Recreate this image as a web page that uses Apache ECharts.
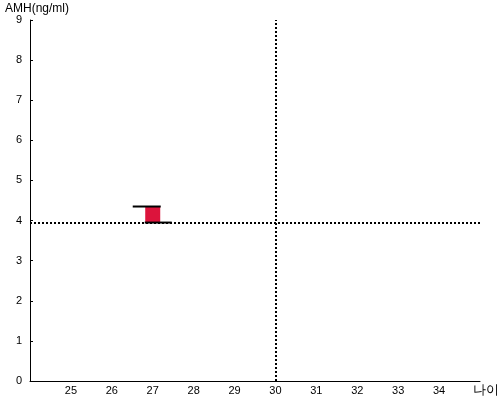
<!DOCTYPE html>
<html><head><meta charset="utf-8">
<script src="https://cdn.jsdelivr.net/npm/echarts@6/dist/echarts.min.js"></script>
<style>html,body{margin:0;padding:0;background:#fff}#c{width:500px;height:400px}</style>
</head><body><div id="c"></div>
<script>
const xTickLabels = [25, 26, 27, 28, 29, 30, 31, 32, 33, 34];
const yTickLabels = [0, 1, 2, 3, 4, 5, 6, 7, 8, 9];
const ages = [27];
const amhValues = [4.35];
const referenceAmh = [3.95];
const referenceAge = [30];

const chart = echarts.init(document.getElementById('c'), null, {renderer: 'canvas'});
const font = 'Arial, "Liberation Sans", sans-serif';
chart.setOption({
  animation: false,
  grid: {left: 30, right: 20, top: 20, bottom: 19, containLabel: false, outerBoundsMode: 'none'},
  graphic: [{
    type: 'text', right: 1, top: 384,
    style: {text: '나이', fill: '#000', font: '13px ' + font}
  }],
  xAxis: {
    type: 'value', min: 24, max: 35, interval: 1,
    axisLine: {lineStyle: {color: '#000', width: 1}},
    axisTick: {show: false},
    splitLine: {show: false},
    axisLabel: {color: '#000', fontSize: 11, fontFamily: font, margin: 4,
      formatter: v => xTickLabels.includes(v) ? String(v) : ''}
  },
  yAxis: {
    type: 'value', min: 0, max: 9, interval: 1,
    name: 'AMH(ng/ml)', nameLocation: 'end', nameGap: 4,
    nameTextStyle: {color: '#000', fontSize: 12, fontFamily: font, align: 'left', padding: [0, 0, 0, -25]},
    axisLine: {show: true, lineStyle: {color: '#000', width: 1}},
    axisTick: {show: true, inside: true, length: 3, lineStyle: {color: '#000'}},
    splitLine: {show: false},
    axisLabel: {color: '#000', fontSize: 11, fontFamily: font, margin: 8,
      formatter: v => yTickLabels.includes(v) ? String(v) : ''}
  },
  series: [{
    type: 'custom',
    data: ages.map((a, i) => [a, amhValues[i], referenceAmh[0]]),
    renderItem: (params, api) => {
      const top = api.coord([api.value(0), api.value(1)]);
      const bot = api.coord([api.value(0), api.value(2)]);
      const cx = top[0];
      return {type: 'group', children: [
        {type: 'rect', shape: {x: cx - 7.5, y: top[1], width: 15, height: bot[1] - top[1]},
          style: {fill: '#dc143c'}},
        {type: 'line', shape: {x1: cx - 20, y1: top[1], x2: cx + 8, y2: top[1]},
          style: {stroke: '#000', lineWidth: 2}},
        {type: 'line', shape: {x1: cx - 8, y1: bot[1], x2: cx + 19, y2: bot[1]},
          style: {stroke: '#000', lineWidth: 2}}
      ]};
    },
    z: 5
  }, {
    type: 'line', data: [], symbol: 'none',
    markLine: {
      silent: true, symbol: 'none', label: {show: false},
      lineStyle: {color: '#000', type: [2, 2], width: 2},
      data: [{xAxis: referenceAge[0]}, {yAxis: referenceAmh[0]}]
    },
    z: 3
  }]
});
</script></body></html>
